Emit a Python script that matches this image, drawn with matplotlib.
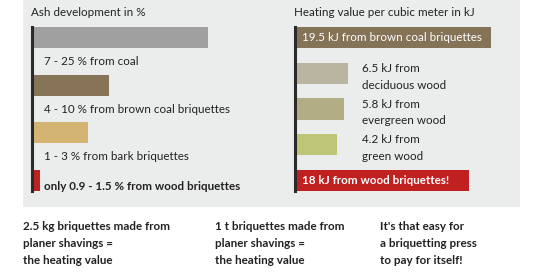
import matplotlib.pyplot as plt
from matplotlib.patches import Rectangle

# -----------------------------
# Data
# -----------------------------
ash_labels = ["7 - 25 % from coal",
              "4 - 10 % from brown coal briquettes",
              "1 - 3 % from bark briquettes",
              "only 0.9 - 1.5 % from wood briquettes"]
ash_bar = [25, 10.9, 7.9, 1.0]
ash_colors = ["#a0a0a0", "#877358", "#d4b472", "#c0201f"]

heat_labels = ["19.5 kJ from brown coal briquettes",
               "6.5 kJ from\ndeciduous wood",
               "5.8 kJ from\nevergreen wood",
               "4.2 kJ from\ngreen wood",
               "18 kJ from wood briquettes!"]
heat_bar = [19.5, 5.2, 4.8, 4.1, 17.3]
heat_colors = ["#857358", "#b9b5a0", "#b3ad86", "#bec577", "#c0201f"]

bottom_texts = ["2.5 kg briquettes made from\nplaner shavings =\nthe heating value",
                "1 t briquettes made from\nplaner shavings =\nthe heating value",
                "It's that easy for\na briquetting press\nto pay for itself!"]

plt.rcParams['font.family'] = ['Lato', 'DejaVu Sans']

W, H = 540, 277
fig = plt.figure(figsize=(W / 100, H / 100), dpi=100)
fig.patch.set_facecolor("white")


def px_axes(x0, y0, x1, y1):
    # axes from pixel box (top-left origin)
    return fig.add_axes([x0 / W, 1 - y1 / H, (x1 - x0) / W, (y1 - y0) / H])


# grey panel
fig.patches.append(Rectangle((23 / W, 1 - 207 / H), (520 - 23) / W, 207 / H,
                             transform=fig.transFigure, facecolor="#ebecec",
                             edgecolor="none", zorder=-5))

txt = "#222222"
fs = 8.4

# -----------------------------
# Left panel: ash
# -----------------------------
ax1 = px_axes(33, 27, 208, 191)
ax1.set_zorder(2)
ax1.barh(range(len(ash_bar)), ash_bar, height=0.45, color=ash_colors)
ax1.set_xlim(0, 25)
ax1.set_ylim(len(ash_bar) - 1 + 0.226, -0.226)
for i, lab in enumerate(ash_labels):
    if i < len(ash_labels) - 1:
        ax1.text(1.57, i + 0.5, lab, fontsize=fs, color=txt, va="center",
                 clip_on=False)
    else:
        ax1.text(1.57, i + 0.14, lab, fontsize=fs, color=txt, va="center",
                 fontweight="bold", clip_on=False)
ax1.axis("off")
fig.add_artist(plt.Line2D([31.5 / W, 31.5 / W], [1 - 27 / H, 1 - 191 / H],
                          color="#2a2a2a", lw=2.2, zorder=3))
fig.text(31 / W, 1 - 13 / H, "Ash development in %", fontsize=fs,
         color=txt, va="center")

# -----------------------------
# Right panel: heating value
# -----------------------------
ax2 = px_axes(296, 27, 516, 191)
ax2.set_zorder(2)
ax2.barh(range(len(heat_bar)), heat_bar, height=0.6, color=heat_colors)
ax2.set_xlim(0, 22)
ax2.set_ylim(len(heat_bar) - 1 + 0.3, -0.3)
for i, lab in enumerate(heat_labels):
    if i == 0:
        ax2.text(0.6, i, lab, fontsize=fs, color="white", va="center")
    elif i == len(heat_labels) - 1:
        ax2.text(0.6, i, lab, fontsize=fs, color="white", va="center",
                 fontweight="bold")
    else:
        ax2.text(6.6, i + 0.1, lab, fontsize=fs, color=txt, va="center",
                 linespacing=1.65, clip_on=False)
ax2.axis("off")
fig.add_artist(plt.Line2D([294.5 / W, 294.5 / W], [1 - 27 / H, 1 - 191 / H],
                          color="#2a2a2a", lw=2.2, zorder=3))
fig.text(294 / W, 1 - 13 / H, "Heating value per cubic meter in kJ",
         fontsize=fs, color=txt, va="center")

# -----------------------------
# Bottom notes
# -----------------------------
for x, t in zip([23, 215, 380], bottom_texts):
    fig.text(x / W, 1 - 221 / H, t, fontsize=fs, color=txt, va="top",
             fontweight="bold", linespacing=1.65)

fig.savefig("out.png", dpi=100)
